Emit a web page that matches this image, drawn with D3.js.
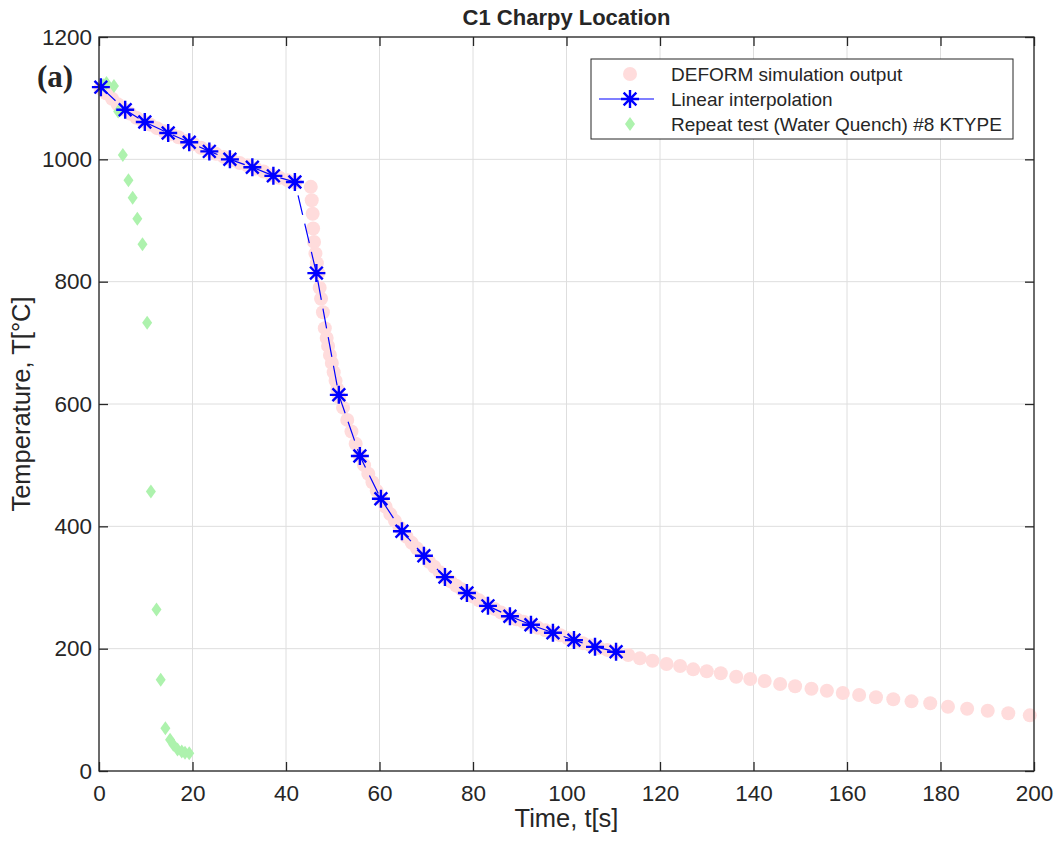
<!DOCTYPE html>
<html>
<head>
<meta charset="utf-8">
<script src="https://cdn.jsdelivr.net/npm/d3@7"></script>
<style>
  body { margin: 0; background: #fff; }
  text { font-family: "Liberation Sans", Helvetica, Arial, sans-serif; fill: #262626; }
</style>
</head>
<body>
<div id="chart"></div>
<script>
var width = 1055;
var height = 841;
var margin = {top: 37, right: 21, bottom: 70, left: 99};

// DEFORM simulation output (time s, temperature C)
var deformTime = [0.3, 1.5, 2.8, 4.0, 5.3, 6.6, 8.0, 9.4, 10.9, 12.4, 13.9, 15.4, 17.0, 18.6, 20.2, 21.8, 23.4, 25.0, 26.7, 28.4, 30.1, 31.8, 33.5, 35.2, 36.9, 38.6, 40.3, 42.0,
  45.3, 45.5, 45.7, 45.8, 46.0, 46.3, 46.6, 46.9,
  47.2, 47.5, 47.9, 48.3, 48.7, 49.0, 49.4, 49.8, 50.2, 50.6, 51.0, 51.4,
  52.2, 53.1, 54.0, 54.9, 55.8, 56.7, 57.6, 58.5, 59.4, 60.3, 61.3, 62.3, 63.3, 64.3,
  65.8, 66.9, 68.0, 69.1, 70.6, 71.7, 72.9, 74.0, 75.2, 76.4, 77.6, 78.7, 80.0, 81.3, 82.6,
  84.6, 86.0, 87.4, 89.3, 90.8, 92.3, 93.9, 95.5, 97.1, 98.7, 100.3, 101.9, 103.5, 105.2, 106.9, 108.7, 110.6,
  113.2, 115.7, 118.4, 121.4, 124.3, 127.1, 130.0, 133.0, 136.3, 139.3, 142.4, 145.7, 148.9, 152.4, 155.7,
  159.1, 162.6, 166.2, 169.9, 173.8, 177.8, 181.6, 185.7, 190.1, 194.5, 199.1];
var deformTemp = [1116, 1108, 1099, 1090, 1082, 1075, 1068, 1062, 1057, 1051, 1046, 1041, 1036, 1030, 1025, 1019, 1014, 1009, 1004, 999, 994, 990, 985, 980, 974, 970, 966, 962,
  955, 933, 911, 887, 865, 846, 830, 814,
  790, 772, 750, 724, 708, 695, 680, 667, 652, 638, 624, 611,
  594, 574, 555, 535, 515, 500, 486, 472, 458, 445, 432, 420, 409, 398,
  383, 373, 364, 355, 342, 334, 325, 317, 310, 303, 297, 291, 285, 279, 273,
  265, 259, 254, 248, 244, 239, 234, 230, 226, 222, 217, 213, 209, 205, 201, 198, 194.5,
  189.6, 184.2, 180.3, 174.9, 171.7, 166.2, 163, 159.7, 154.2, 150.4, 147.1, 142.2, 138.5, 134.5, 131.3,
  127.5, 124.2, 120.5, 117.2, 113.9, 110.7, 105.1, 101.8, 98.6, 94.3, 91];

// Linear interpolation
var interpTime = [0.4, 5.6, 9.8, 14.8, 19.3, 23.6, 28.0, 32.8, 37.3, 41.9, 46.5, 51.3, 55.8, 60.3, 64.8, 69.5, 74.0, 78.7, 83.2, 87.9, 92.4, 97.1, 101.6, 106.1, 110.6];
var interpTemp = [1118, 1081, 1061, 1043, 1028, 1013, 1000, 987, 973, 963, 814, 615, 515, 445, 392, 352, 317, 291, 270, 253, 239, 226, 214, 203, 195];

// Repeat test (Water Quench) #8 KTYPE
var quenchTime = [0.9, 1.6, 3.2, 4.1, 5.1, 6.3, 7.2, 8.2, 9.3, 10.3, 11.1, 12.3, 13.2, 14.2, 15.2, 15.9, 16.8, 17.7, 18.4, 19.3];
var quenchTemp = [1121, 1125, 1120, 1078, 1007, 966, 937, 903, 861, 733, 457, 264, 149, 70, 51, 43, 35, 32, 30, 29];

var xTicks = [0, 20, 40, 60, 80, 100, 120, 140, 160, 180, 200];
var yTicks = [0, 200, 400, 600, 800, 1000, 1200];
var legendLabels = ["DEFORM simulation output", "Linear interpolation", "Repeat test (Water Quench) #8 KTYPE"];

var pink = "#ffdcdc", blue = "#0000ff", green = "#adf2ad", axisCol = "#262626";

var w = width - margin.left - margin.right;
var h = height - margin.top - margin.bottom;

var svg = d3.select("#chart")
  .append("svg")
    .attr("width", width)
    .attr("height", height);

var g = svg.append("g")
  .attr("transform", "translate(" + margin.left + "," + margin.top + ")");

var x = d3.scaleLinear().domain([0, 200]).range([0, w]);
var y = d3.scaleLinear().domain([0, 1200]).range([h, 0]);

// grid
g.selectAll(".gx").data(xTicks).enter().append("line")
  .attr("x1", function(d) { return x(d); }).attr("x2", function(d) { return x(d); })
  .attr("y1", 0).attr("y2", h)
  .attr("stroke", "#dedede").attr("stroke-width", 1);
g.selectAll(".gy").data(yTicks).enter().append("line")
  .attr("y1", function(d) { return y(d); }).attr("y2", function(d) { return y(d); })
  .attr("x1", 0).attr("x2", w)
  .attr("stroke", "#dedede").attr("stroke-width", 1);

// data
var deform = d3.zip(deformTime, deformTemp);
var interp = d3.zip(interpTime, interpTemp);
var quench = d3.zip(quenchTime, quenchTemp);

g.selectAll(".deform").data(deform).enter().append("circle")
  .attr("cx", function(d) { return x(d[0]); })
  .attr("cy", function(d) { return y(d[1]); })
  .attr("r", 7)
  .attr("fill", pink);

var diamond = "M0,-7L5,0L0,7L-5,0Z";
g.selectAll(".quench").data(quench).enter().append("path")
  .attr("d", diamond)
  .attr("transform", function(d) { return "translate(" + x(d[0]) + "," + y(d[1]) + ")"; })
  .attr("fill", green);

var line = d3.line().x(function(d) { return x(d[0]); }).y(function(d) { return y(d[1]); });
g.append("path").datum(interp)
  .attr("d", line)
  .attr("fill", "none")
  .attr("stroke", blue)
  .attr("stroke-width", 1.2)
  .attr("stroke-dasharray", "20,9");

var r = 9, q = r * Math.SQRT1_2;
var star = "M" + (-r) + ",0H" + r + "M0," + (-r) + "V" + r +
  "M" + (-q) + "," + (-q) + "L" + q + "," + q + "M" + (-q) + "," + q + "L" + q + "," + (-q);
g.selectAll(".interp").data(interp).enter().append("path")
  .attr("d", star)
  .attr("transform", function(d) { return "translate(" + x(d[0]) + "," + y(d[1]) + ")"; })
  .attr("stroke", blue).attr("stroke-width", 2.4).attr("fill", "none");

// axes box with inward ticks
var xAxis = d3.axisBottom(x).tickValues(xTicks).tickSize(-9).tickPadding(14).tickFormat(d3.format("d"));
var yAxis = d3.axisLeft(y).tickValues(yTicks).tickSize(-9).tickPadding(7).tickFormat(d3.format("d"));
var xTop = d3.axisTop(x).tickValues(xTicks).tickSize(-9).tickFormat("");
var yRight = d3.axisRight(y).tickValues(yTicks).tickSize(-9).tickFormat("");

function style(sel) {
  sel.selectAll("path,line").attr("stroke", axisCol).attr("stroke-width", 1.3);
  sel.selectAll("text").attr("fill", axisCol).style("font-size", "22.5px")
    .style("font-family", "'Liberation Sans', Helvetica, Arial, sans-serif");
}
g.append("g").attr("transform", "translate(0," + h + ")").call(xAxis).call(style);
g.append("g").call(yAxis).call(style);
g.append("g").call(xTop).call(style);
g.append("g").attr("transform", "translate(" + w + ",0)").call(yRight).call(style);
g.selectAll(".domain").attr("d", null);
g.append("rect").attr("width", w).attr("height", h)
  .attr("fill", "none").attr("stroke", axisCol).attr("stroke-width", 1.3);

// labels
svg.append("text")
  .attr("x", margin.left + w / 2).attr("y", 25)
  .attr("text-anchor", "middle")
  .style("font-size", "22px").style("font-weight", "bold")
  .text("C1 Charpy Location");
svg.append("text")
  .attr("x", margin.left + w / 2).attr("y", 827)
  .attr("text-anchor", "middle")
  .style("font-size", "25.5px")
  .text("Time, t[s]");
svg.append("text")
  .attr("transform", "translate(30," + (margin.top + h / 2) + ") rotate(-90)")
  .attr("text-anchor", "middle")
  .style("font-size", "25.5px")
  .text("Temperature, T[°C]");
svg.append("text")
  .attr("x", 37).attr("y", 87)
  .style("font-family", "'Liberation Serif', 'Times New Roman', serif")
  .style("font-size", "31px").style("font-weight", "bold")
  .attr("fill", "#000")
  .text("(a)");

// legend
var leg = svg.append("g");
leg.append("rect")
  .attr("x", 591).attr("y", 59).attr("width", 422).attr("height", 80)
  .attr("fill", "#fff").attr("stroke", axisCol).attr("stroke-width", 1);
var rowY = [74, 99, 124];
leg.append("circle").attr("cx", 630).attr("cy", rowY[0]).attr("r", 7).attr("fill", pink);
leg.append("line").attr("x1", 599).attr("x2", 654).attr("y1", rowY[1]).attr("y2", rowY[1])
  .attr("stroke", blue).attr("stroke-width", 1.2);
leg.append("path").attr("d", star).attr("transform", "translate(630," + rowY[1] + ")")
  .attr("stroke", blue).attr("stroke-width", 2.4).attr("fill", "none");
leg.append("path").attr("d", diamond).attr("transform", "translate(630," + rowY[2] + ")")
  .attr("fill", green);
leg.selectAll(".lt").data(legendLabels).enter().append("text")
  .attr("x", 671)
  .attr("y", function(d, i) { return rowY[i] + 7; })
  .style("font-size", "19px")
  .text(function(d) { return d; });
</script>
</body>
</html>
